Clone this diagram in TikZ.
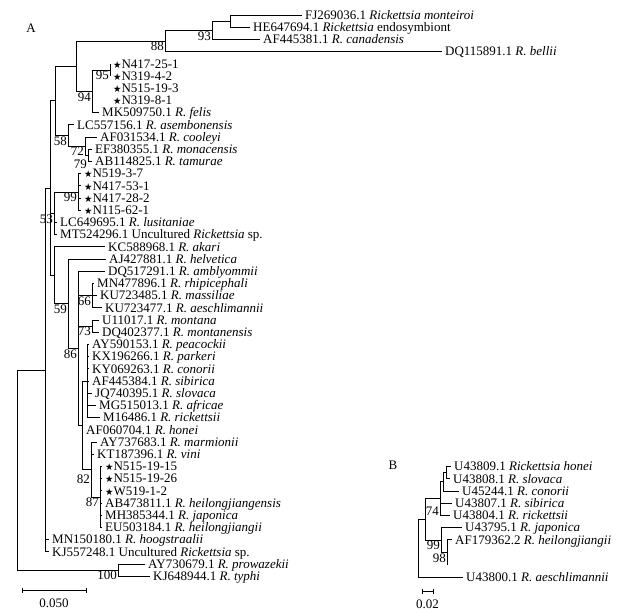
\documentclass[tikz,border=0pt]{standalone}
\usepackage{fontspec}
\usepackage{graphicx}
\setmainfont{Liberation Serif}
\newfontfamily\starfont{DejaVu Sans}
\usetikzlibrary{positioning}

\newcommand{\isol}[1]{{\starfont\scalebox{0.72}{★}}#1}

\begin{document}
\begin{tikzpicture}[
    x=1pt, y=-1pt,
    every node/.style={font=\fontsize{13}{14}\selectfont},
    branch/.style={line width=0.8pt, black},
    leaf/.style={anchor=base west, inner xsep=3pt, inner ysep=0pt, yshift=-4.3pt,
        text height=8.6pt, text depth=0.5pt},
    boot/.style={anchor=north east, inner sep=1pt},
    panel/.style={anchor=center, inner sep=0pt}
]
    \useasboundingbox (0,0) rectangle (626,613);

    \node[panel] (TagA) at (31,28) {A};
    \node[panel] (TagB) at (393,465) {B};

    % panel A: inner nodes
    \foreach \n/\x/\y in {NFH/230/21.1, N93/212/30.25, N88/165/40.9, N95/110/69.9, N94/92/91.25,
        N76/76/66.1, N79/88/155.3, N72/85/146.15, N58/68/135.5, N55/55/100.8, N99/78/191.9,
        N53/54/213.25, N66/92/295.6, N73/92/326.1, NP/87/381, N87/100/496.9, N82/91/469.45,
        NH/82/425.2, N86/78/348.2, N59/68/303.6, NK/54/275.2, N50/50/188, N45/45/369.9,
        N100/118/570.1, RootA/17/470}
        \coordinate (\n) at (\x,\y);

    % panel A: tips
    \foreach \n/\x/\y/\t in {
        FJ/302/15.0/{FJ269036.1 \emph{Rickettsia monteiroi}},
        HE/250/27.2/{HE647694.1 \emph{Rickettsia} endosymbiont},
        AFc/260/39.4/{AF445381.1 \emph{R. canadensis}},
        DQb/442/51.6/{DQ115891.1 \emph{R. bellii}},
        Sa/110/63.8/{\isol{N417-25-1}},
        Sb/110/76.0/{\isol{N319-4-2}},
        Sc/110/88.2/{\isol{N515-19-3}},
        Sd/110/100.4/{\isol{N319-8-1}},
        MK/99/112.6/{MK509750.1 \emph{R. felis}},
        LCa/74/124.8/{LC557156.1 \emph{R. asembonensis}},
        AFco/97/137.0/{AF031534.1 \emph{R. cooleyi}},
        EF/92/149.2/{EF380355.1 \emph{R. monacensis}},
        AB/92/161.4/{AB114825.1 \emph{R. tamurae}},
        Se/81/173.6/{\isol{N519-3-7}},
        Sf/81/185.8/{\isol{N417-53-1}},
        Sg/81/198.0/{\isol{N417-28-2}},
        Sh/81/210.2/{\isol{N115-62-1}},
        LCl/57/222.4/{LC649695.1 \emph{R. lusitaniae}},
        MT/57/234.6/{MT524296.1 Uncultured \emph{Rickettsia} sp.},
        KC/105/246.8/{KC588968.1 \emph{R. akari}},
        AJ/106/259.0/{AJ427881.1 \emph{R. helvetica}},
        DQa/105/271.2/{DQ517291.1 \emph{R. amblyommii}},
        MN/94/283.4/{MN477896.1 \emph{R. rhipicephali}},
        KUm/97/295.6/{KU723485.1 \emph{R. massiliae}},
        KUa/102/307.8/{KU723477.1 \emph{R. aeschlimannii}},
        U11/99/320.0/{U11017.1 \emph{R. montana}},
        DQm/99/332.2/{DQ402377.1 \emph{R. montanensis}},
        AYp/89/344.4/{AY590153.1 \emph{R. peacockii}},
        KX/89/356.6/{KX196266.1 \emph{R. parkeri}},
        KY/89/368.8/{KY069263.1 \emph{R. conorii}},
        AFs/89/381.0/{AF445384.1 \emph{R. sibirica}},
        JQ/92/393.2/{JQ740395.1 \emph{R. slovaca}},
        MG/96/405.4/{MG515013.1 \emph{R. africae}},
        M16/100/417.6/{M16486.1 \emph{R. rickettsii}},
        AFh/83/429.8/{AF060704.1 \emph{R. honei}},
        AYm/97/442.0/{AY737683.1 \emph{R. marmionii}},
        KT/94/454.2/{KT187396.1 \emph{R. vini}},
        Si/102/466.4/{\isol{N515-19-15}},
        Sj/102/478.6/{\isol{N515-19-26}},
        Sk/102/490.8/{\isol{W519-1-2}},
        ABh/102/503.0/{AB473811.1 \emph{R. heilongjiangensis}},
        MH/102/515.2/{MH385344.1 \emph{R. japonica}},
        EU/102/527.4/{EU503184.1 \emph{R. heilongjiangii}},
        MNh/49/539.6/{MN150180.1 \emph{R. hoogstraalii}},
        KJu/49/551.8/{KJ557248.1 Uncultured \emph{Rickettsia} sp.},
        AYw/145/564.0/{AY730679.1 \emph{R. prowazekii}},
        KJt/150/576.2/{KJ648944.1 \emph{R. typhi}}}
    {
        \coordinate (\n) at (\x,\y);
        \node[leaf] (L\n) at (\n) {\t};
    }

    \foreach \p/\c in {NFH/FJ, NFH/HE, N93/NFH, N93/AFc, N88/N93, N88/DQb, N95/Sa, N95/Sb,
        N94/N95, N94/MK, N76/N88, N76/N94, N79/EF, N79/AB, N72/AFco, N72/N79, N58/LCa, N58/N72,
        N55/N76, N55/N58, N99/Se, N99/Sf, N99/Sg, N99/Sh, N53/N99, N53/LCl, N53/MT,
        N66/MN, N66/KUm, N66/KUa, N73/U11, N73/DQm, NP/AYp, NP/KX, NP/KY, NP/AFs, NP/JQ, NP/MG,
        NP/M16, N87/Si, N87/Sj, N87/Sk, N87/ABh, N87/MH, N87/EU, N82/AYm, N82/KT, N82/N87,
        NH/NP, NH/AFh, NH/N82, N86/DQa, N86/N66, N86/N73, N86/NH, N59/AJ, N59/N86, NK/KC, NK/N59,
        N50/N55, N50/N53, N50/NK, N45/N50, N45/MNh, N45/KJu, N100/AYw, N100/KJt,
        RootA/N45, RootA/N100}
        \draw[branch] (\p) |- (\c);

    \foreach \n/\v/\d in {N93/93/0, N88/88/0, N95/95/0, N94/94/0, N58/58/0, N72/72/0, N79/79/-3,
        N99/99/0, N53/53/0, N59/59/0, N66/66/0, N73/73/0, N86/86/0, N82/82/-4, N87/87/0, N100/100/0}
        \node[boot, yshift=\d pt] (B\n) at (\n) {\v};

    % scale bar A
    \coordinate (BarA1) at (22,590);
    \coordinate (BarA2) at (86,590);
    \draw[branch] (BarA1) -- (BarA2);
    \draw[branch] ([yshift=2.5pt]BarA1) -- ([yshift=-2.5pt]BarA1);
    \draw[branch] ([yshift=2.5pt]BarA2) -- ([yshift=-2.5pt]BarA2);
    \node[panel] (ScaleA) at (54,603) {0.050};

    % panel B
    \foreach \n/\x/\y in {ND/446/472.6, NC/443/481.75, N74B/440/498.5, N98B/447/552.35,
        N99B/441/539.9, NX/425/519.2, RootB/418/548.1, N98E/447/565}
        \coordinate (\n) at (\x,\y);

    \foreach \n/\x/\y/\t in {
        Ua/451/466.5/{U43809.1 \emph{Rickettsia honei}},
        Ub/450/478.7/{U43808.1 \emph{R. slovaca}},
        Uc/459/490.9/{U45244.1 \emph{R. conorii}},
        Ud/452/503.1/{U43807.1 \emph{R. sibirica}},
        Ue/450/515.3/{U43804.1 \emph{R. rickettsii}},
        Uf/462/527.5/{U43795.1 \emph{R. japonica}},
        AFj/452/539.7/{AF179362.2 \emph{R. heilongjiangii}},
        Ug/463/577/{U43800.1 \emph{R. aeschlimannii}}}
    {
        \coordinate (\n) at (\x,\y);
        \node[leaf] (L\n) at (\n) {\t};
    }

    \foreach \p/\c in {ND/Ua, ND/Ub, NC/ND, NC/Uc, N74B/NC, N74B/Ud, N74B/Ue, N98B/AFj,
        N99B/Uf, N99B/N98B, NX/N74B, NX/N99B, RootB/NX, RootB/Ug}
        \draw[branch] (\p) |- (\c);
    \draw[branch] (N98B) -- (N98E);

    \foreach \n/\v/\d in {N74B/74/-7, N99B/99/0, N98B/98/0}
        \node[boot, yshift=\d pt] (B\n) at (\n) {\v};

    % scale bar B
    \coordinate (BarB1) at (422,591);
    \coordinate (BarB2) at (433,591);
    \draw[branch] (BarB1) -- (BarB2);
    \draw[branch] ([yshift=2.5pt]BarB1) -- ([yshift=-2.5pt]BarB1);
    \draw[branch] ([yshift=2.5pt]BarB2) -- ([yshift=-2.5pt]BarB2);
    \node[panel] (ScaleB) at (427.5,604) {0.02};
\end{tikzpicture}
\end{document}
